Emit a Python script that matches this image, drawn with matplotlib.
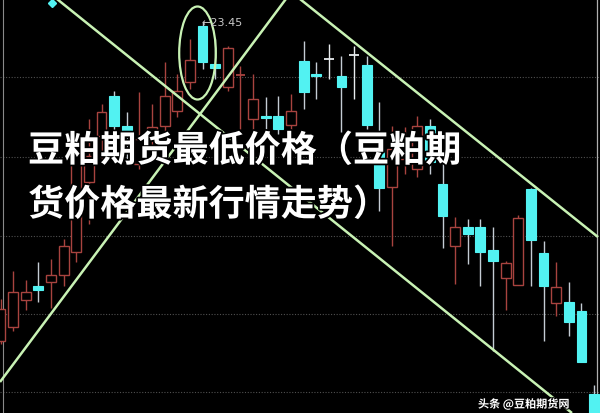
import matplotlib
matplotlib.use('Agg')
import matplotlib.pyplot as plt
from matplotlib.patches import Rectangle, Ellipse
import matplotlib.patheffects as pe

# ---- data (price units, arbitrary scale; higher = higher price) ----
opens  = [72, 86, 113, 127, 131, 138, 161, 231, 277, 317, 287, 249, 276, 287, 302, 331,
          387, 349, 326, 338, 294, 297, 297, 288, 352, 339, 354, 337, 358, 348, 264, 226,
          254, 244, 287, 229, 167, 186, 186, 163, 135, 128, 224, 160, 110, 111, 102, 19]
closes = [104, 121, 121, 123, 138, 167, 261, 257, 301, 287, 276, 274, 286, 317, 322, 353,
          351, 345, 365, 338, 314, 295, 284, 302, 321, 337, 354, 326, 358, 288, 225, 264,
          274, 287, 251, 197, 186, 179, 161, 152, 150, 195, 173, 127, 126, 91, 51, -6]
highs  = [114, 142, 133, 151, 154, 174, 271, 294, 309, 322, 301, 321, 309, 351, 339, 374,
          391, 374, 367, 347, 339, 316, 317, 319, 372, 351, 369, 357, 367, 357, 311, 287,
          286, 297, 294, 252, 196, 194, 194, 186, 152, 198, 225, 172, 151, 131, 110, 28]
lows   = [69, 82, 103, 111, 105, 127, 151, 189, 254, 279, 254, 244, 264, 269, 296, 324,
          344, 334, 322, 284, 274, 284, 279, 279, 304, 314, 334, 281, 314, 284, 202, 167,
          239, 236, 239, 165, 129, 149, 127, 62, 103, 128, 127, 72, 97, 77, 51, -6]

grid_levels = [336, 256, 177, 99, 21]

# trend lines (index, price) anchors
trend_lines = [
    ([4.47, 45.25], [414, 0]),
    ([-0.04, 22.6], [31, 414]),
    ([23.71, 47.31], [414, 176]),
]
peak_label = "←23.45"
title_line1 = "豆粕期货最低价格（豆粕期"
title_line2 = "货价格最新行情走势）"
watermark = "头条 @豆粕期货网"

# ---- figure ----
fig = plt.figure(figsize=(6.0, 4.14), dpi=100, facecolor='black')
ax = fig.add_axes([0, 0, 1, 1])
ax.set_facecolor('black')
ax.set_xlim(-0.04, 47.47)
ax.set_ylim(0, 414)
ax.axis('off')

RED = '#a8433f'
CYAN = '#52f2f2'
WICK_C = '#c4ccd4'
GREEN = '#c8f2b4'
W = 0.78

for lv in grid_levels:
    ax.axhline(lv, color='#505050', lw=0.8, ls=(0, (1, 1.5)), zorder=1)

for i, (o, c, h, l) in enumerate(zip(opens, closes, highs, lows)):
    if c > o:  # up candle: hollow red
        ax.vlines(i, c, h, color=RED, lw=1, zorder=2)
        ax.vlines(i, l, o, color=RED, lw=1, zorder=2)
        ax.add_patch(Rectangle((i - W / 2, o), W, c - o, facecolor='black',
                               edgecolor=RED, lw=1, zorder=3))
    elif c < o:  # down candle: filled cyan
        ax.vlines(i, l, h, color=WICK_C, lw=1, zorder=2)
        ax.add_patch(Rectangle((i - W / 2, c), W, o - c, facecolor=CYAN,
                               edgecolor=CYAN, lw=0.8, zorder=3))
    else:  # doji
        col = RED if i < 20 else '#e8ecef'
        ax.vlines(i, l, h, color=col, lw=1, zorder=2)
        ax.hlines(o, i - W / 2, i + W / 2, color=col, lw=1.3, zorder=3)

# peak marker and label
pk = highs.index(max(highs))
ax.text(pk - 0.05, highs[pk], peak_label, color='#c8c8c8', fontsize=8,
        va='center', ha='left', zorder=5)

# small diamond marker at top left
ax.plot([4.08], [410], marker='D', color=CYAN, markersize=4, zorder=5)

# trend lines
for xs, ys in trend_lines:
    ax.plot(xs, ys, color=GREEN, lw=1.8, zorder=4, solid_capstyle='butt')

ax.add_patch(Ellipse((15.6, 360), 2.9, 93, fill=False, edgecolor=GREEN, lw=1.6, zorder=4))

# frame lines
ax.axvline(0.2, color='#8a8a8a', lw=0.8, zorder=1)
ax.axvline(47.2, color='#b0b0b0', lw=0.9, zorder=1)

# title overlay
fam = ['Noto Sans CJK SC', 'DejaVu Sans']
fx = pe.withStroke(linewidth=2.5, foreground='black')
fig.text(28 / 600, 1 - 152 / 414, title_line1, color='white', fontsize=26,
         family=fam, weight='bold', va='center', ha='left', path_effects=[fx], zorder=10)
fig.text(28 / 600, 1 - 206 / 414, title_line2, color='white', fontsize=26,
         family=fam, weight='bold', va='center', ha='left', path_effects=[fx], zorder=10)

# watermark at the bottom edge
fig.text(478 / 600, 2 / 414, watermark, color='white', fontsize=8,
         family=fam, weight='bold', va='bottom', ha='left', zorder=10,
         path_effects=[pe.withStroke(linewidth=1.5, foreground='black')])

fig.savefig('out.png', dpi=100, facecolor='black')
